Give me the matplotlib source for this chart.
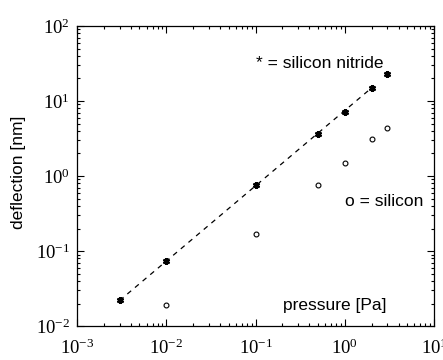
import math
import matplotlib
matplotlib.use('Agg')
import matplotlib.pyplot as plt
from matplotlib.ticker import LogLocator, FuncFormatter, NullFormatter

plt.rcParams['font.family'] = 'serif'
plt.rcParams['font.serif'] = ['Liberation Serif', 'DejaVu Serif']

'''Data read from the plot'''
pressure = [0.003, 0.01, 0.1, 0.5, 1, 2, 3]
nitride = [0.022, 0.074, 0.75, 3.6, 7.1, 15, 22.7]
silicon_p = [0.01, 0.1, 0.5, 1, 2, 3]
silicon = [0.019, 0.17, 0.76, 1.5, 3.1, 4.3]
fit_x = [0.003, 2]
fit_y = [0.022, 15]

fig = plt.figure(figsize=(4.43, 3.6), dpi=100)
ax = fig.add_axes([0.174, 0.094, 0.806, 0.834])

ax.plot(fit_x, fit_y, 'k--', lw=0.9, dashes=(4, 4))
ax.plot(pressure, nitride, ls='none', marker=(6, 2, 0), ms=5, mew=1.6, color='k')
ax.plot(silicon_p, silicon, ls='none', marker='o', ms=3.5, mfc='none', mec='k', mew=0.8)

ax.set_xscale('log')
ax.set_yscale('log')
ax.set_xlim(1e-3, 1e1)
ax.set_ylim(1e-2, 1e2)

'''Ticks'''
def fmt(v, pos):
    e = int(round(math.log10(v)))
    return r'$\mathregular{10^{%d}}$' % e

for a in (ax.xaxis, ax.yaxis):
    a.set_major_locator(LogLocator(base=10, numticks=10))
    a.set_minor_locator(LogLocator(base=10, subs=range(2, 10), numticks=10))
    a.set_major_formatter(FuncFormatter(fmt))
    a.set_minor_formatter(NullFormatter())
ax.tick_params(which='both', direction='in', top=True, right=True, width=0.8)
ax.tick_params(which='major', length=5, labelsize=13.5, pad=5)
ax.tick_params(axis='x', which='major', pad=9)
ax.tick_params(which='minor', length=2.5)
for s in ax.spines.values():
    s.set_linewidth(0.9)

sans = 'Liberation Sans'
ax.set_ylabel('deflection [nm]', fontsize=12.5, family=sans)
ax.yaxis.set_label_coords(-0.143, 0.513)
ax.text(0.5, 0.86, '* = silicon nitride', transform=ax.transAxes, fontsize=12.5, family=sans)
ax.text(0.75, 0.40, 'o = silicon', transform=ax.transAxes, fontsize=12.5, family=sans)
ax.text(0.577, 0.053, 'pressure [Pa]', transform=ax.transAxes, fontsize=12.5, family=sans)

fig.savefig('out.png', dpi=100)
